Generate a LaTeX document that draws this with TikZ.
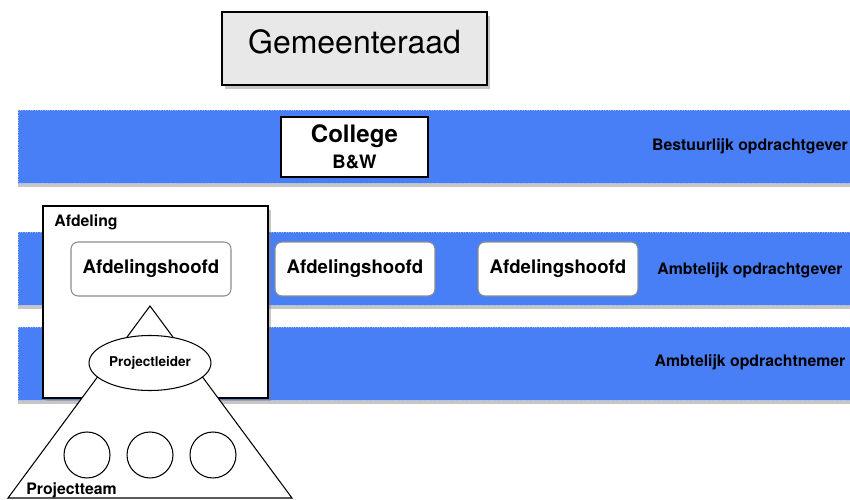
\documentclass[tikz,border=0pt]{standalone}
\usepackage{fontspec}
\setsansfont{TeX Gyre Heros}
\usetikzlibrary{shapes}
\usetikzlibrary{shadows}
\definecolor{bandblue}{RGB}{72,127,246}
\definecolor{raadgrey}{RGB}{232,232,232}
\tikzset{
	orgnode/.style = {align=center, inner sep=0pt, text centered,
		font=\sffamily\bfseries},
	org_band/.style = {orgnode, rectangle, fill=bandblue, draw=bandblue!55!white,
		densely dotted, minimum width=16.64cm, minimum height=1.46cm,
		drop shadow={shadow xshift=0pt, shadow yshift=-2.5pt, opacity=.45}},% laag
	org_raad/.style = {orgnode, rectangle, fill=raadgrey, draw=black, line width=1.1pt,
		font=\sffamily\fontsize{18.2}{20}\selectfont, text depth=8pt,
		minimum width=5.3cm, minimum height=1.46cm,
		drop shadow={shadow xshift=1.5pt, shadow yshift=-2pt, opacity=.45}},% gemeenteraad
	org_bw/.style = {orgnode, rectangle, fill=white, draw=black, line width=.7pt,
		minimum width=2.94cm, minimum height=1.2cm},% college
	org_afd/.style = {orgnode, rectangle, fill=white, draw=black, line width=.7pt,
		minimum width=4.5cm, minimum height=3.84cm,
		drop shadow={shadow xshift=1.5pt, shadow yshift=-2pt, opacity=.45}},% afdeling
	org_hoofd/.style = {orgnode, rectangle, rounded corners=4pt, fill=white,
		draw=black!45, line width=.6pt, font=\sffamily\bfseries\fontsize{10.6}{12}\selectfont,
		minimum width=3.2cm, minimum height=1.08cm},% afdelingshoofd
	org_lbl/.style = {orgnode, font=\sffamily\bfseries\fontsize{9}{10}\selectfont},% tekst
	org_pl/.style = {orgnode, ellipse, fill=white, draw=black, line width=.6pt,
		font=\sffamily\bfseries\fontsize{7.7}{9}\selectfont,
		minimum width=2.44cm, minimum height=1.1cm},% projectleider
	org_lid/.style = {orgnode, circle, fill=white, draw=black, line width=.6pt,
		minimum size=0.92cm}% teamlid
}

\begin{document}
\begin{tikzpicture}[x=0.02cm, y=-0.02cm]
			\useasboundingbox (0,0) rectangle (850,500);
			% lagen
			\node [org_band] (bestuur) at (434,146.5) {};
			\node [org_band] (ogever) at (434,268.5) {};
			\node [org_band] (onemer) at (434,363.5) {};
			\node [org_lbl] (lbestuur) at (750,146) {Bestuurlijk opdrachtgever};
			\node [org_lbl] (logever) at (750,270) {Ambtelijk opdrachtgever};
			\node [org_lbl] (lonemer) at (750,362) {Ambtelijk opdrachtnemer};
			% bestuur
			\node [org_raad] (raad) at (354.5,48.5) {Gemeenteraad};
			\node [org_bw] (college) at (354.5,147)
				{{\fontsize{13.7}{15}\selectfont College}\\[3pt]{\fontsize{10.5}{12}\selectfont B\&W}};
			% afdeling
			\node [org_afd] (afd) at (155.5,302) {};
			\node [org_lbl, anchor=west] (lafd) at (54,222) {Afdeling};
			\node [org_hoofd] (hoofd1) at (151,269) {Afdelingshoofd};
			\node [org_hoofd] (hoofd2) at (355,269) {Afdelingshoofd};
			\node [org_hoofd] (hoofd3) at (558,269) {Afdelingshoofd};
			% project
			\coordinate (ptop) at (150,306);
			\coordinate (pleft) at (8,498);
			\coordinate (pright) at (292,498);
			\draw [fill=white, line width=.6pt] (ptop) -- (pleft) -- (pright) -- cycle;
			\node [org_pl] (leider) at (150,363) {Projectleider};
			\node [org_lid] (lid1) at (87,455) {};
			\node [org_lid] (lid2) at (150,455) {};
			\node [org_lid] (lid3) at (213,455) {};
			\node [org_lbl, anchor=west] (lteam) at (26,490) {Projectteam};
			;\end{tikzpicture}
\end{document}
